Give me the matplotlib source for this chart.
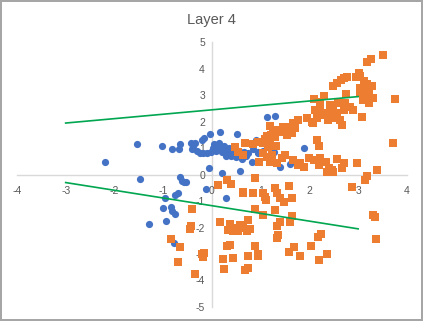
import matplotlib
matplotlib.use("Agg")
import matplotlib.pyplot as plt

plt.rcParams['font.family'] = ['Liberation Sans', 'DejaVu Sans']

# Series 1 (blue circles)
blue_x = [-2.19, -1.53, -1.03, -0.81, -0.66, -0.67, -1.48, -0.66, -0.62, -0.58, -0.54,
          -0.42, -0.38, -0.35, -0.40, -0.21, -0.16, -0.03, 0.16, 0.51, -0.25, -0.18,
          -0.11, -0.01, -0.05, 0.20, 0.58, -0.13, 0.29, -0.75, -0.69, -0.97, -1.00,
          -0.84, -0.81, -0.76, -0.95, -1.29, -0.78, 1.12, 1.30, 1.88, 0.90, 0.83,
          0.95, 1.27, 1.40, 1.60,
          0.05, 0.10, 0.15, 0.20, 0.25, 0.30, 0.35, 0.40, 0.45, 0.50, 0.55, 0.60,
          0.10, 0.20, 0.30, 0.40, 0.50, 0.65, 0.70, 0.15, 0.25, 0.35, 0.45, 0.55,
          0.08, 0.28, 0.62, 0.75, 0.85, 0.95, 1.05, -0.30, 0.02]
blue_y = [0.49, 1.16, 1.10, 0.96, 1.15, 0.96, -0.18, -0.08, -0.23, -0.26, -0.26,
          1.18, 1.10, 1.21, 0.96, 1.31, 1.40, 1.52, 1.62, 1.52, 0.83, 0.83,
          0.83, 0.87, 0.26, 0.05, 0.13, -0.55, -0.87, -0.77, -0.68, -0.87, -1.27,
          -1.21, -1.36, -1.50, -1.75, -1.88, -2.57, 2.17, 2.23, 0.99, 1.31, 0.49,
          0.81, 0.87, 0.30, 0.40,
          1.15, 1.10, 1.05, 1.00, 0.95, 0.90, 0.85, 0.80, 0.75, 0.70, 0.70, 0.75,
          0.95, 0.85, 0.80, 0.70, 0.65, 0.85, 0.70, 1.20, 1.10, 1.00, 0.95, 0.90,
          0.90, 0.72, 0.60, 0.80, 0.95, 0.85, 0.90, 0.90, 1.00]

# Series 2 (orange squares)
orange_x = [3.51, 3.26, 3.18, 3.01, 3.04, 2.96, 2.77, 2.70, 2.64, 2.56, 2.48, 3.12,
            3.18, 3.28, 3.04, 3.14, 3.23, 3.03, 3.18, 3.30, 3.09, 3.22, 3.08, 3.75,
            3.71, 3.38, 3.18, 3.14, 2.87, 2.97, 2.75, 2.30, 2.10, 2.22, 2.42, 2.49,
            2.59, 2.73, 2.84, 2.90, 2.70, 2.56, 2.46, 2.36, 2.25, 2.15, 2.05, 2.12,
            2.22, 1.95, 2.08, 2.63, 2.66, 2.49, 2.39, 1.77, 1.67, 1.60, 1.71, 1.64,
            1.53, 1.45, 1.42, 1.32, 1.26, 1.19, 1.22, 1.12, 1.09, 1.19, 1.29, 1.05,
            0.95, 0.85, 0.68, 0.47, 0.54, 0.64, 1.16, 1.32, 2.15, 2.19, 1.50, 1.67,
            1.81, 1.88, 1.99, 2.10, 2.22, 2.19, 2.33, 2.40, 2.36, 2.47, 2.49, 2.56,
            2.70, 2.66, 1.77, 1.43, 1.33, 1.19, 1.12, 1.05, 0.97, 1.23,
            0.13, 0.30, 0.40, 0.64, 0.63, 0.88, 0.85, 1.05, 1.09, 1.11, 1.29, 1.33,
            1.40, 1.47, 1.58, 1.64, 1.29, 1.05, 1.64, 1.60, 1.40, 1.33, 1.36, 1.33,
            0.88, 0.16, 0.37, 0.44, 0.54, 0.44, 0.58, 0.64, 0.73, 0.78, 0.71, 0.51,
            0.34, -0.40, -0.42, -0.44, -0.83, -0.66, -0.70, -0.21, -0.18, -0.16,
            -0.35, 0.23, 0.25, 0.44, 0.30, 0.38, 0.75, 0.88, 0.95, 0.95, 0.68, 0.75,
            1.58, 1.68, 1.81, 2.03, 2.18, 2.23, 2.19, 2.36, 3.31, 3.35, 3.37]
orange_y = [4.52, 4.36, 4.27, 3.85, 3.73, 3.68, 3.68, 3.64, 3.58, 3.45, 3.35, 3.54,
            3.41, 3.35, 3.26, 3.20, 3.14, 3.07, 3.01, 2.91, 2.82, 2.70, 2.17, 2.86,
            1.18, 0.18, -0.05, -0.20, -0.48, 0.43, 3.04, 2.98, 2.86, 2.76, 2.63, 2.51,
            2.70, 2.70, 2.57, 2.44, 2.44, 2.32, 2.25, 2.34, 2.25, 2.13, 2.00, 2.44,
            2.44, 2.13, 1.94, 2.07, 1.88, 2.13, 2.07, 2.07, 1.94, 1.81, 1.75, 1.56,
            1.50, 1.81, 1.62, 1.69, 1.62, 1.84, 1.50, 1.46, 1.34, 1.31, 1.44, 1.18,
            1.25, 1.16, 1.18, 1.06, 0.87, 0.74, 1.06, 1.08, 1.31, 1.10, 0.74, 0.55,
            0.43, 0.30, 0.62, 0.55, 0.62, 0.37, 0.46, 0.24, 0.11, 0.18, 0.11, 0.58,
            0.43, 0.24, 0.37, 0.62, 0.43, 0.49, 0.68, 0.81, 0.49, 0.74,
            -0.39, -0.20, -0.37, -0.64, -0.71, -0.14, -0.68, -0.68, -0.83, -0.96, -0.52, -0.68,
            -0.89, -1.02, -0.43, -0.89, -1.34, -1.52, -1.56, -1.81, -1.81, -1.96, -2.28, -2.41,
            -1.31, -1.81, -1.86, -2.03, -2.15, -2.15, -1.90, -2.03, -1.71, -2.07, -2.15, -2.09,
            -2.09, -1.31, -1.96, -2.07, -2.44, -2.72, -3.32, -3.00, -3.10, -2.95,
            -3.77, -3.20, -3.58, -3.14, -2.69, -2.66, -3.07, -2.69, -3.00, -3.07, -3.60, -3.54,
            -2.91, -2.72, -3.06, -2.69, -2.34, -2.24, -3.22, -3.00, -1.52, -1.59, -2.44]

# Trend lines (green)
line1_x = [-3.0, 3.0]
line1_y = [1.95, 2.95]
line2_x = [-3.0, 3.0]
line2_y = [-0.30, -2.05]

x_ticks = [-4, -3, -2, -1, 0, 1, 2, 3, 4]
y_ticks = [-5, -4, -3, -2, -1, 0, 1, 2, 3, 4, 5]

fig = plt.figure(figsize=(4.23, 3.21), dpi=100)
fig.patch.set_facecolor('white')
fig.patch.set_edgecolor('#A6A6A6')
fig.patch.set_linewidth(1.5)

ax = fig.add_axes([0.040, 0.044, 0.922, 0.824])
ax.set_xlim(-4, 4)
ax.set_ylim(-5, 5)

for s in ['top', 'right']:
    ax.spines[s].set_visible(False)
ax.spines['left'].set_position(('data', 0))
ax.spines['bottom'].set_position(('data', 0))
for s in ['left', 'bottom']:
    ax.spines[s].set_color('#D9D9D9')
    ax.spines[s].set_linewidth(1.0)
    ax.spines[s].set_zorder(0)

ax.set_xticks(x_ticks)
ax.set_yticks(y_ticks)
ax.set_xticklabels([str(t) for t in x_ticks])
ax.set_yticklabels([str(t) for t in y_ticks])
ax.tick_params(axis='x', length=0, pad=8, labelsize=7.5, labelcolor='#595959')
ax.tick_params(axis='y', length=0, pad=5, labelsize=7.5, labelcolor='#595959')

ax.scatter(blue_x, blue_y, s=27, marker='o', color='#4472C4', linewidths=0, zorder=2)
ax.scatter(orange_x, orange_y, s=30, marker='s', color='#ED7D31', linewidths=0, zorder=3)
ax.plot(line1_x, line1_y, color='#00A650', lw=1.2, zorder=4)
ax.plot(line2_x, line2_y, color='#00A650', lw=1.2, zorder=4)

fig.text(0.499, 0.937, 'Layer 4', ha='center', va='center', fontsize=10.5, color='#595959')

fig.savefig('out.png', dpi=100, facecolor=fig.get_facecolor(), edgecolor=fig.get_edgecolor())
